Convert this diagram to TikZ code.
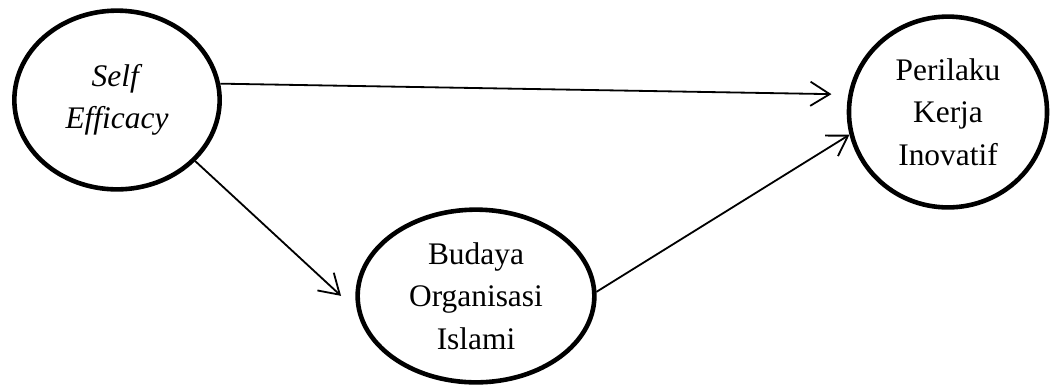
\documentclass[tikz,border=0pt]{standalone}
\usepackage{fontspec}
\setmainfont{Liberation Serif}
\usetikzlibrary{arrows.meta,shapes.geometric}
\tikzset{
    construct/.style={
        draw=black,
        ellipse,
        line width=1.9pt,
        inner sep=0pt,
        align=center,
        font=\fontsize{13}{17.5}\selectfont
    },
    relation/.style={
        -{Straight Barb[length=8pt,width=10pt]},
        draw=black,
        line width=0.75pt
    }
}

\begin{document}
\begin{tikzpicture}[x=0.414pt,y=-0.414pt]
    \useasboundingbox (0,0) rectangle (1051,390);
    \node[construct,minimum width=85pt,minimum height=74pt] (efficacy) at (117,100)
        {\textit{Self}\\\textit{Efficacy}};
    \node[construct,minimum width=82pt,minimum height=79pt] (perilaku) at (948,112)
        {Perilaku\\Kerja\\Inovatif};
    \node[construct,minimum width=98pt,minimum height=71.5pt] (budaya) at (476,296)
        {Budaya\\Organisasi\\Islami};

    \draw[relation,shorten >=7pt] (efficacy.9) -- (perilaku.170);
    \draw[relation,shorten >=9pt] (efficacy.-38) -- (budaya.187);
    \draw[relation] (budaya.2) -- (perilaku.193);
\end{tikzpicture}
\end{document}
